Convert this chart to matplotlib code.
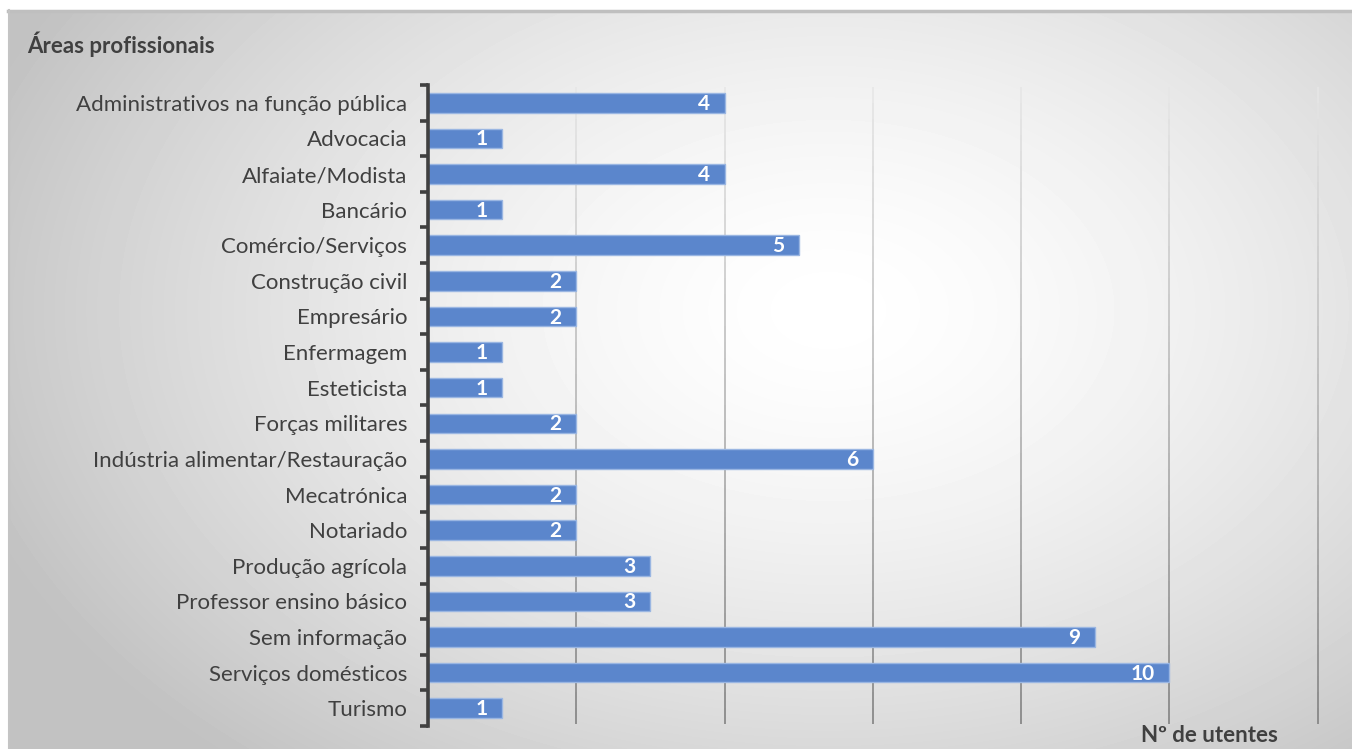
import numpy as np
import matplotlib.pyplot as plt
from matplotlib.collections import LineCollection

plt.rcParams['font.family'] = ['Lato', 'DejaVu Sans']

areas = ['Administrativos na função pública', 'Advocacia', 'Alfaiate/Modista', 'Bancário',
         'Comércio/Serviços', 'Construção civil', 'Empresário', 'Enfermagem', 'Esteticista',
         'Forças militares', 'Indústria alimentar/Restauração', 'Mecatrónica', 'Notariado',
         'Produção agrícola', 'Professor ensino básico', 'Sem informação', 'Serviços domésticos',
         'Turismo']
utentes = [4, 1, 4, 1, 5, 2, 2, 1, 1, 2, 6, 2, 2, 3, 3, 9, 10, 1]
grid_x = [2, 4, 6, 8, 10, 12]

W, H = 1352, 749
fig = plt.figure(figsize=(W / 100, H / 100), dpi=100)
fig.patch.set_facecolor('white')

# radial grey background of the chart area
bg = fig.add_axes([8 / W, 0, 1 - 8 / W, 1 - 10 / H])
bg.set_axis_off()
yy, xx = np.mgrid[0:H - 10, 0:W - 8]
r = np.sqrt(((xx - 820) / 900.0) ** 2 + ((yy - 300) / 600.0) ** 2)
shade = np.clip(1.0 - 0.24 * r ** 1.5, 0.76, 1.0)
bg.imshow(shade, cmap='gray', vmin=0, vmax=1, aspect='auto', interpolation='bilinear')
fig.add_artist(plt.Line2D([8 / W, 1], [1 - 10.5 / H, 1 - 10.5 / H], color='#bfbfbf', lw=2.5))
fig.add_artist(plt.Line2D([8.5 / W, 8.5 / W], [0, 1 - 10 / H], color='#c4c4c4', lw=1.5))

ax = fig.add_axes([428 / W, 1 - 726 / H, (1319 - 428) / W, (726 - 85) / H])
ax.patch.set_alpha(0)
n = len(areas)
ypos = np.arange(n)
ax.set_ylim(n - 0.5, -0.5)
ax.set_xlim(0, 12.02)

# vertical gridlines, lighter at the top and darker at the bottom
segs, cols = [], []
steps = 40
for gx in grid_x:
    edges = np.linspace(-0.5 + 0.05, n - 0.5 - 0.05, steps + 1)
    for k in range(steps):
        segs.append([(gx, edges[k]), (gx, edges[k + 1])])
        t = k / (steps - 1)
        g = 0.90 - 0.40 * t
        cols.append((g, g, g, 0.9))
ax.add_collection(LineCollection(segs, colors=cols, linewidths=1.3, zorder=1))

ax.barh(ypos, utentes, height=0.55, color='#5b86cc', edgecolor='#9ab6e2', linewidth=1.0, zorder=2)
for y, v in zip(ypos, utentes):
    ax.text(v - 0.2, y + 0.03, str(v), ha='right', va='center', color='white',
            fontsize=15, fontweight='bold', zorder=3)

for s in ['top', 'right', 'bottom']:
    ax.spines[s].set_visible(False)
ax.spines['left'].set_color('#404040')
ax.spines['left'].set_linewidth(2.6)
ax.set_xticks([])
ax.set_yticks(ypos)
ax.set_yticklabels(areas, fontsize=16, color='#404040')
ax.tick_params(axis='y', which='major', length=0, pad=15)
ax.set_yticks(np.arange(-0.5, n, 1.0), minor=True)
ax.tick_params(axis='y', which='minor', length=6, width=2.6, color='#404040', direction='out')

fig.text(27 / W, 1 - 44 / H, 'Áreas profissionais', fontsize=16, fontweight='bold',
         color='#404040', ha='left', va='center')
fig.text(1209 / W, 1 - 735 / H, 'Nº de utentes', fontsize=16, fontweight='bold',
         color='#404040', ha='center', va='center')

fig.savefig('out.png', dpi=100)
